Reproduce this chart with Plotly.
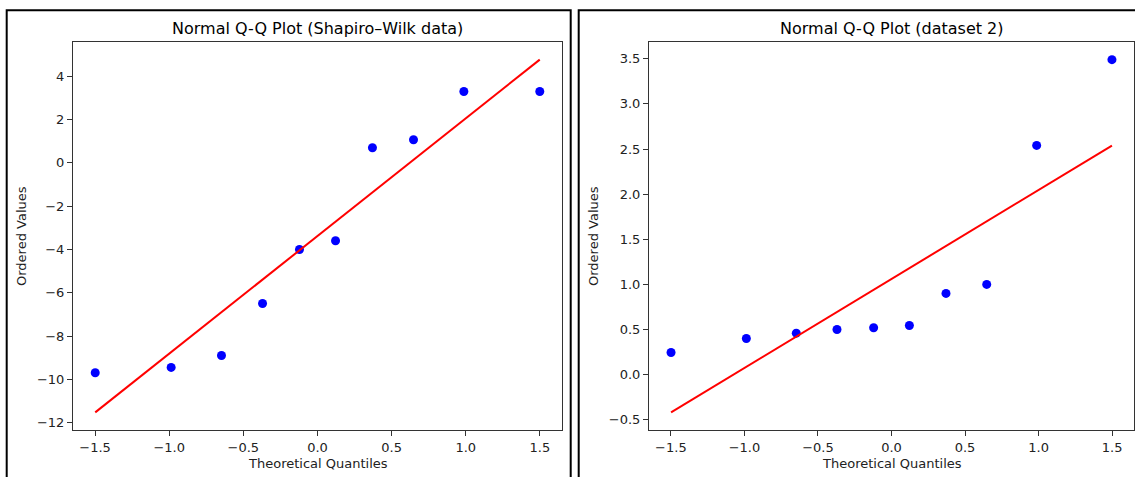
import numpy as np
import plotly.graph_objects as go
from plotly.subplots import make_subplots

# Theoretical quantiles (n=10, Filliben)
quantiles = [-1.499, -0.987, -0.6474, -0.3706, -0.1216, 0.1216, 0.3706, 0.6474, 0.987, 1.499]
# Ordered values
values_1 = [-9.7, -9.45, -8.9, -6.5, -4.0, -3.6, 0.7, 1.07, 3.3, 3.3]
values_2 = [0.245, 0.40, 0.46, 0.50, 0.52, 0.545, 0.90, 1.0, 2.54, 3.49]

titles = ["Normal Q-Q Plot (Shapiro\u2013Wilk data)", "Normal Q-Q Plot (dataset 2)"]
x_label = "Theoretical Quantiles"
y_label = "Ordered Values"
x_ticks = [-1.5, -1.0, -0.5, 0.0, 0.5, 1.0, 1.5]
y_ticks_1 = [-12, -10, -8, -6, -4, -2, 0, 2, 4]
y_ticks_2 = [-0.5, 0.0, 0.5, 1.0, 1.5, 2.0, 2.5, 3.0, 3.5]

W, H = 1135, 477
FONT = "DejaVu Sans"

fig = make_subplots(rows=1, cols=2)

def px_x(p):
    return p / W

def px_y(p):
    return (H - p) / H

axes_px = [(73, 562), (649, 1134)]
ylabel_offset = [51, 55]
top_px, bot_px = 42, 430

for i, (vals, yt, yfmt) in enumerate([(values_1, y_ticks_1, "d"), (values_2, y_ticks_2, ".1f")]):
    col = i + 1
    x = np.array(quantiles)
    y = np.array(vals)
    slope, intercept = np.polyfit(x, y, 1)
    fit_x = np.array([x.min(), x.max()])
    fit_y = slope * fit_x + intercept
    fig.add_trace(go.Scatter(x=x, y=y, mode="markers",
                             marker=dict(color="#0000ff", size=9, line=dict(width=0)),
                             showlegend=False), row=1, col=col)
    fig.add_trace(go.Scatter(x=fit_x, y=fit_y, mode="lines",
                             line=dict(color="#ff0000", width=2),
                             showlegend=False), row=1, col=col)
    # matplotlib style 5% margins
    xlo, xhi = x.min(), x.max()
    xm = (xhi - xlo) * 0.05
    ylo = min(y.min(), fit_y.min()); yhi = max(y.max(), fit_y.max())
    ym = (yhi - ylo) * 0.05
    x0, x1 = axes_px[i]
    axis_common = dict(showgrid=False, zeroline=False, showline=True, mirror=True,
                       linecolor="#333333", linewidth=1, ticks="outside", ticklen=5,
                       tickwidth=1, tickcolor="#333333",
                       tickfont=dict(family=FONT, size=13, color="#222222"))
    fig.update_xaxes(range=[xlo - xm, xhi + xm], tickvals=x_ticks, tickformat=".1f",
                     domain=[px_x(x0), px_x(x1)], row=1, col=col, **axis_common)
    fig.update_yaxes(range=[ylo - ym, yhi + ym], tickvals=yt, tickformat=yfmt,
                     domain=[px_y(bot_px), px_y(top_px)], row=1, col=col, **axis_common)
    cx = (x0 + x1) / 2
    fig.add_annotation(x=px_x(cx), y=px_y(28), xref="paper", yref="paper", text=titles[i],
                       showarrow=False, xanchor="center", yanchor="middle",
                       font=dict(family=FONT, size=16, color="#000000"))
    fig.add_annotation(x=px_x(cx), y=px_y(463), xref="paper", yref="paper", text=x_label,
                       showarrow=False, xanchor="center", yanchor="middle",
                       font=dict(family=FONT, size=13, color="#222222"))
    fig.add_annotation(x=px_x(x0 - ylabel_offset[i]), y=px_y((top_px + bot_px) / 2),
                       xref="paper", yref="paper",
                       text=y_label, textangle=-90, showarrow=False, xanchor="center", yanchor="middle",
                       font=dict(family=FONT, size=13, color="#222222"))

# panel borders
fig.add_shape(type="rect", xref="paper", yref="paper", x0=px_x(6.7), x1=px_x(570.7),
              y0=px_y(H + 20), y1=px_y(10.3), line=dict(color="#000000", width=2), layer="above")
fig.add_shape(type="rect", xref="paper", yref="paper", x0=px_x(578.7), x1=px_x(W + 20),
              y0=px_y(H + 20), y1=px_y(10.3), line=dict(color="#000000", width=2), layer="above")

fig.update_layout(width=W, height=H, margin=dict(l=0, r=0, t=0, b=0),
                  paper_bgcolor="white", plot_bgcolor="white",
                  font=dict(family=FONT))

fig.write_html("out.html")
